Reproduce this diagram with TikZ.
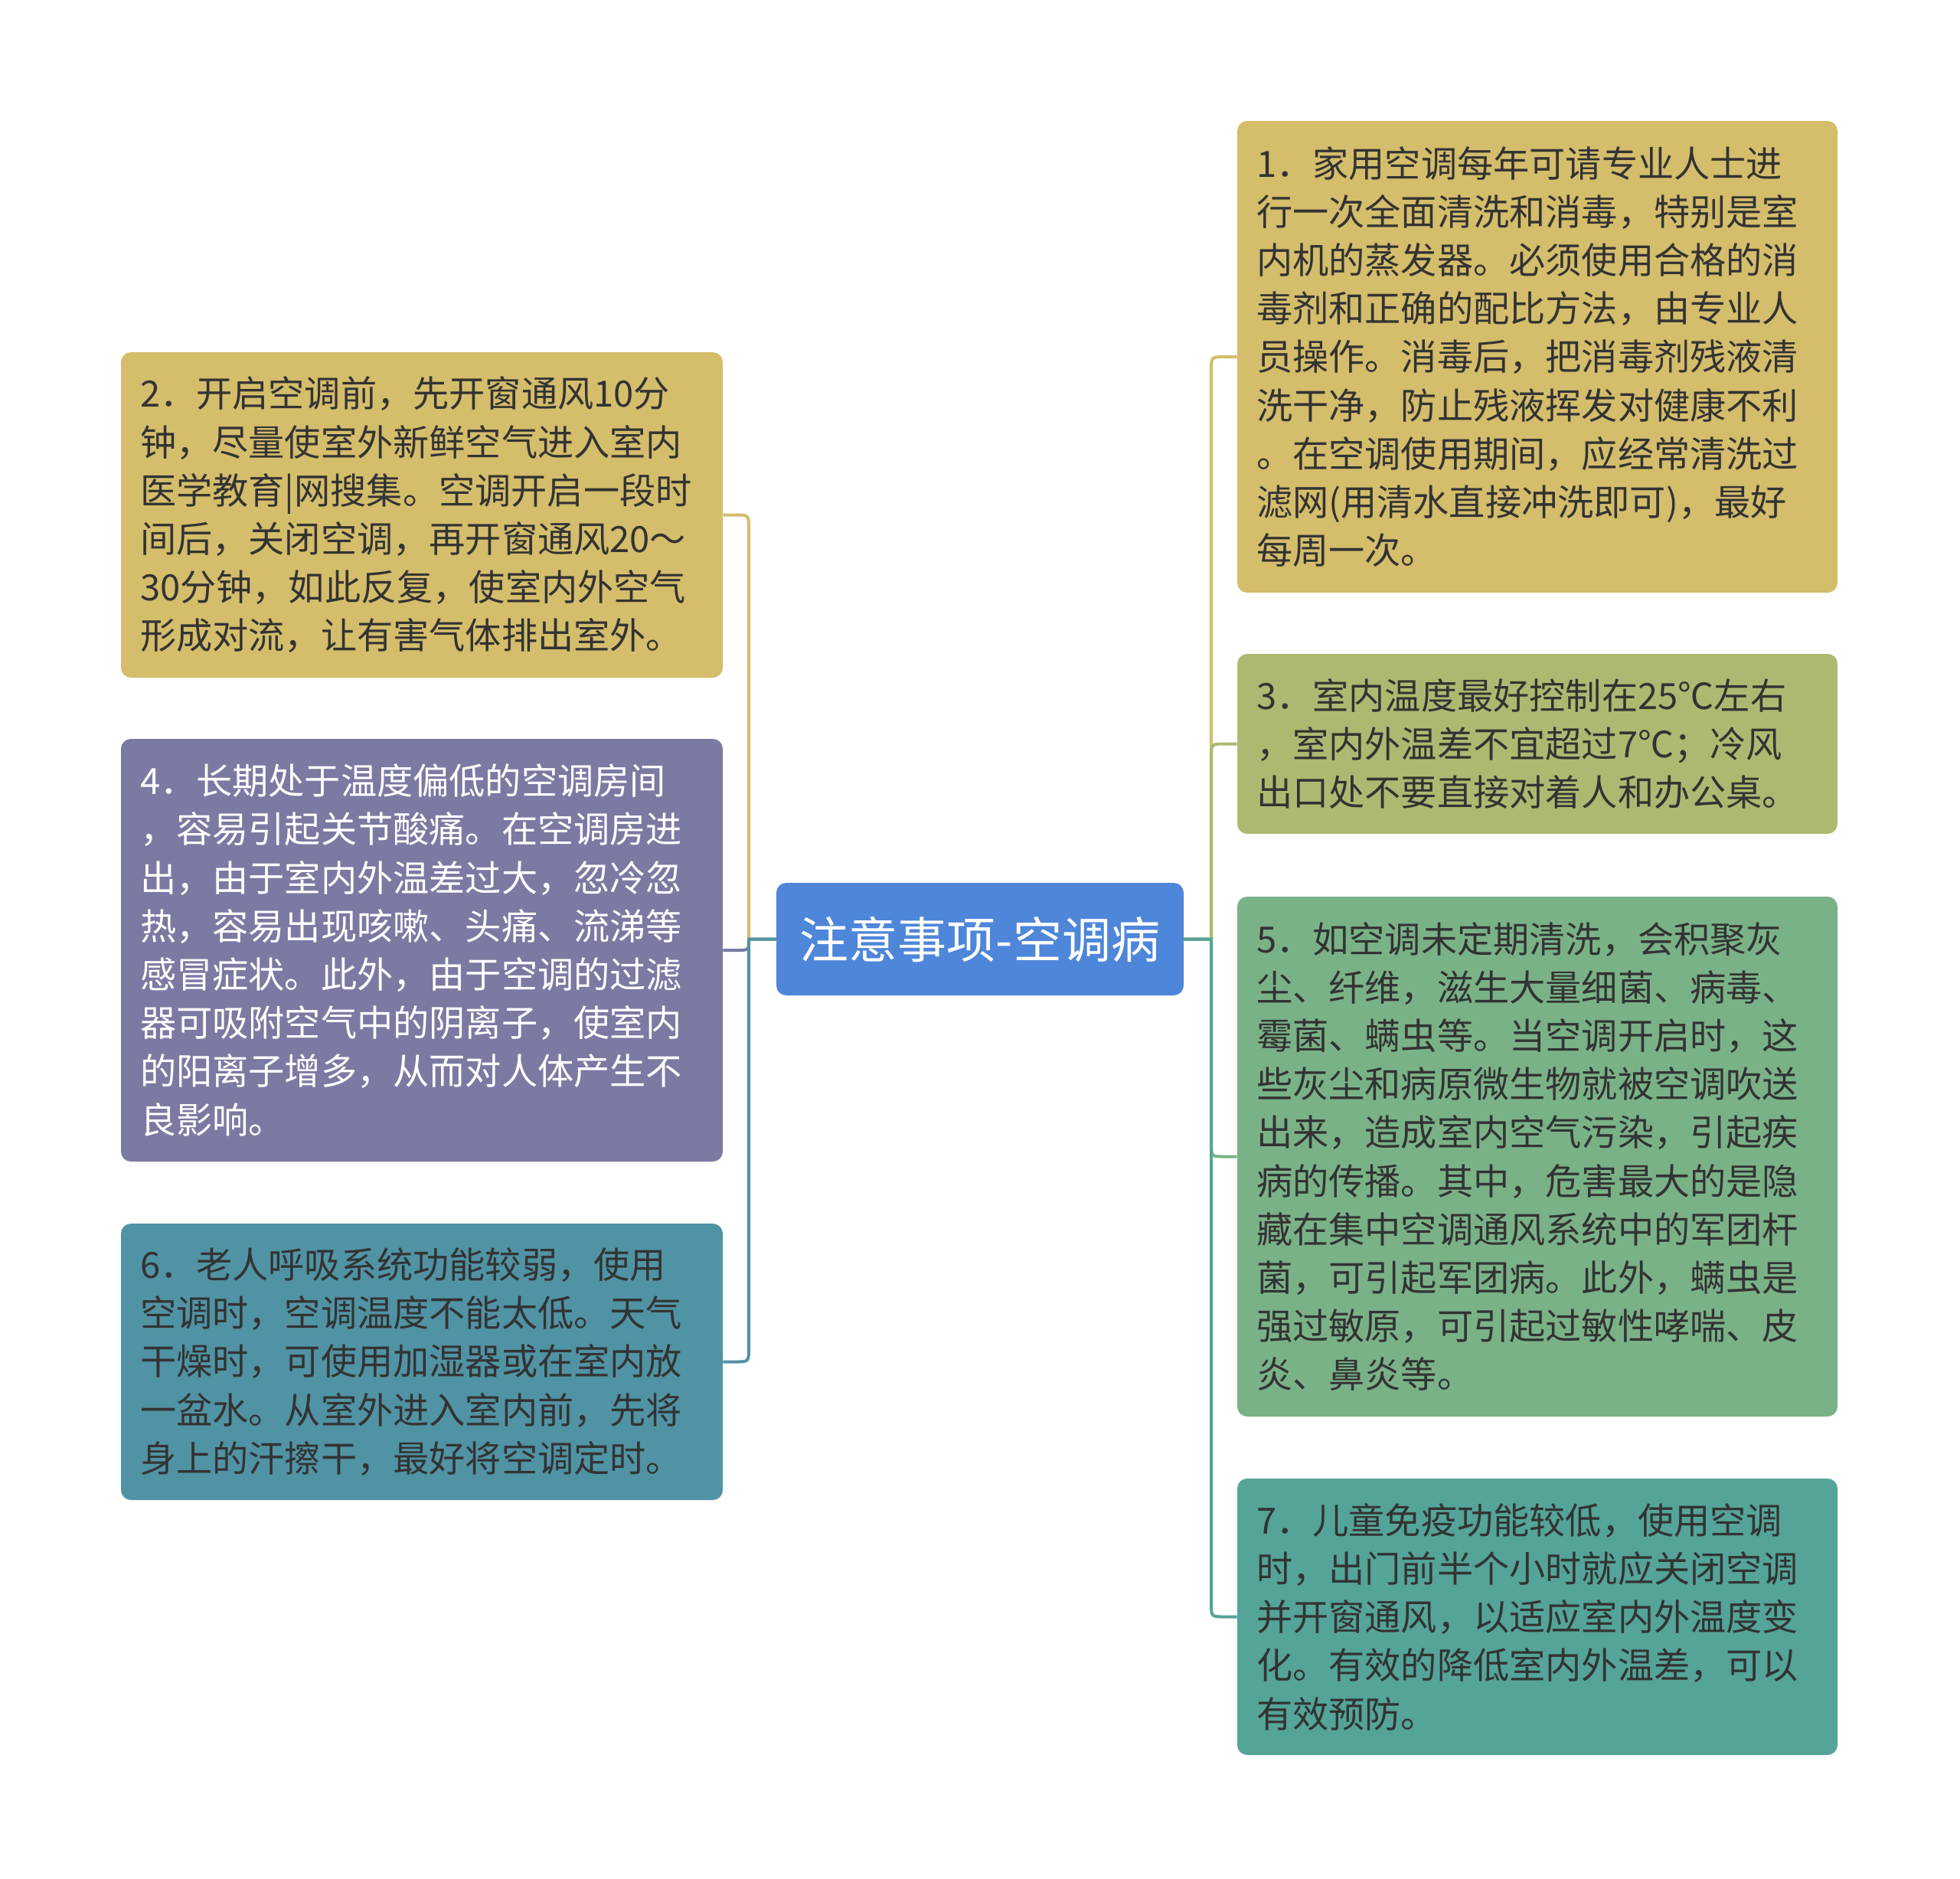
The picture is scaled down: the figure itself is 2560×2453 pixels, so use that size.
\documentclass[tikz,border=0pt]{standalone}
\usepackage{fontspec}
\setmainfont{Noto Sans CJK SC}
\definecolor{gold}{HTML}{D4BD6B}
\definecolor{olive}{HTML}{ADB970}
\definecolor{grn}{HTML}{7AB287}
\definecolor{teal7}{HTML}{54A498}
\definecolor{purp}{HTML}{7A7AA2}
\definecolor{blueteal}{HTML}{5093A4}
\definecolor{cblue}{HTML}{4E86DA}
\definecolor{txt}{HTML}{333333}
\tikzset{
  card/.style={rounded corners=6.5pt, inner xsep=12.5pt, inner ysep=0pt, align=left,
    text=txt, font=\fontsize{23.6pt}{31.6pt}\selectfont, anchor=center},
  lnk/.style={line width=2pt},
}
\begin{document}
\begin{tikzpicture}[x=0.5pt,y=-0.5pt]
\useasboundingbox (0,0) rectangle (2560,2453);
\fill[white] (0,0) rectangle (2560,2453);

\node[fill=cblue, rounded corners=6.5pt, minimum width=266pt, minimum height=73.5pt, inner sep=0pt,
  text=white, font=\fontsize{32pt}{38pt}\selectfont] (c) at (1280,1226.5) {注意事项-空调病};

\node[card, fill=gold, text width=367pt, minimum height=308pt] (n1) at (2008,466) {1．家用空调每年可请专业人士进\\
行一次全面清洗和消毒，特别是室\\
内机的蒸发器。必须使用合格的消\\
毒剂和正确的配比方法，由专业人\\
员操作。消毒后，把消毒剂残液清\\
洗干净，防止残液挥发对健康不利\\
。在空调使用期间，应经常清洗过\\
滤网(用清水直接冲洗即可)，最好\\
每周一次。};

\node[card, fill=olive, text width=367pt, minimum height=117.5pt] (n3) at (2008,971.5) {3．室内温度最好控制在25℃左右\\
，室内外温差不宜超过7℃；冷风\\
出口处不要直接对着人和办公桌。};

\node[card, fill=grn, text width=367pt, minimum height=339.5pt] (n5) at (2008,1510.5) {5．如空调未定期清洗，会积聚灰\\
尘、纤维，滋生大量细菌、病毒、\\
霉菌、螨虫等。当空调开启时，这\\
些灰尘和病原微生物就被空调吹送\\
出来，造成室内空气污染，引起疾\\
病的传播。其中，危害最大的是隐\\
藏在集中空调通风系统中的军团杆\\
菌，可引起军团病。此外，螨虫是\\
强过敏原，可引起过敏性哮喘、皮\\
炎、鼻炎等。};

\node[card, fill=teal7, text width=367pt, minimum height=180.5pt] (n7) at (2008,2111.5) {7．儿童免疫功能较低，使用空调\\
时，出门前半个小时就应关闭空调\\
并开窗通风，以适应室内外温度变\\
化。有效的降低室内外温差，可以\\
有效预防。};

\node[card, fill=gold, text width=368pt, minimum height=212.5pt] (n2) at (551,672.5) {2．开启空调前，先开窗通风10分\\
钟，尽量使室外新鲜空气进入室内\\
医学教育|网搜集。空调开启一段时\\
间后，关闭空调，再开窗通风20～\\
30分钟，如此反复，使室内外空气\\
形成对流，让有害气体排出室外。};

\node[card, fill=purp, text=white, text width=368pt, minimum height=276pt] (n4) at (551,1241) {4．长期处于温度偏低的空调房间\\
，容易引起关节酸痛。在空调房进\\
出，由于室内外温差过大，忽冷忽\\
热，容易出现咳嗽、头痛、流涕等\\
感冒症状。此外，由于空调的过滤\\
器可吸附空气中的阴离子，使室内\\
的阳离子增多，从而对人体产生不\\
良影响。};

\node[card, fill=blueteal, text width=368pt, minimum height=180.5pt] (n6) at (551,1778.5) {6．老人呼吸系统功能较弱，使用\\
空调时，空调温度不能太低。天气\\
干燥时，可使用加湿器或在室内放\\
一盆水。从室外进入室内前，先将\\
身上的汗擦干，最好将空调定时。};

% left connectors
\draw[lnk, purp] (c.west) -- (978,1226.5) .. controls (978,1241) .. (963,1241) -- (n4.east);
\draw[lnk, gold] (c.west) -- (978,1226.5) -- (978,690.5) .. controls (978,672.5) .. (960,672.5) -- (n2.east);
\draw[lnk, blueteal] (c.west) -- (978,1226.5) -- (978,1760.5) .. controls (978,1778.5) .. (960,1778.5) -- (n6.east);
% right connectors
\draw[lnk, gold] (c.east) -- (1582,1226.5) -- (1582,484) .. controls (1582,466) .. (1600,466) -- (n1.west);
\draw[lnk, olive] (c.east) -- (1582,1226.5) -- (1582,989.5) .. controls (1582,971.5) .. (1600,971.5) -- (n3.west);
\draw[lnk, grn] (c.east) -- (1582,1226.5) -- (1582,1492.5) .. controls (1582,1510.5) .. (1600,1510.5) -- (n5.west);
\draw[lnk, teal7] (c.east) -- (1582,1226.5) -- (1582,2093.5) .. controls (1582,2111.5) .. (1600,2111.5) -- (n7.west);
\end{tikzpicture}
\end{document}
